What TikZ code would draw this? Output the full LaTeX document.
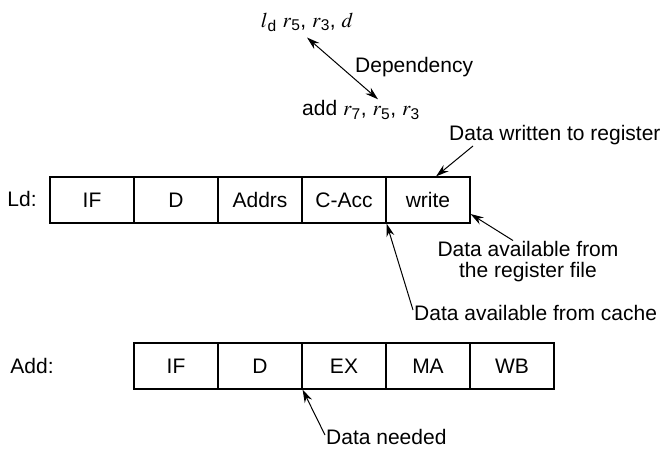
\documentclass[tikz,border=0pt]{standalone}
\usepackage{mathptmx}
\usepackage{fontspec}
\setmainfont{Liberation Sans}
\usetikzlibrary{arrows.meta}

\begin{document}
\begin{tikzpicture}[x=1pt,y=-1pt,font=\fontsize{21}{24}\selectfont,>={Stealth[length=13pt,width=8pt]}]

        \useasboundingbox (0,0) rectangle (669,449);

        \begin{scope}[every node/.style={draw,line width=1.2pt,minimum width=84pt,minimum height=46pt,inner sep=0pt}]
          \node (l1) at (92,200)  {IF};
          \node (l2) at (176,200) {D};
          \node (l3) at (260,200) {Addrs};
          \node (l4) at (344,200) {C-Acc};
          \node (l5) at (428,200) {write};
          \node (a1) at (176,366) {IF};
          \node (a2) at (260,366) {D};
          \node (a3) at (344,366) {EX};
          \node (a4) at (428,366) {MA};
          \node (a5) at (512,366) {WB};
        \end{scope}

        \begin{scope}[every node/.style={inner sep=1pt}]
          \node (ld)  at (22,199) {Ld:};
          \node (add) at (32,366) {Add:};
          \node (instr1) at (307,22)  {$l$\textsubscript{d} $r$\textsubscript{5}, $r$\textsubscript{3}, $d$};
          \node (instr2) at (361,110) {add $r$\textsubscript{7}, $r$\textsubscript{5}, $r$\textsubscript{3}};
          \node[anchor=west] (dep)     at (354,67)  {Dependency};
          \node[anchor=west] (written) at (448,135) {Data written to register};
          \node[align=center,font=\fontsize{21}{21}\selectfont] (regfile) at (528,262) {Data available from\\the register file};
          \node[anchor=west] (cache)   at (413,313) {Data available from cache};
          \node[anchor=west] (needed)  at (325,437) {Data needed};
        \end{scope}

        \begin{scope}[every edge/.style={draw,line width=1pt,->}]
          \path ([yshift=-5pt]instr1.south) edge[<->] ([xshift=17pt]instr2.north);
          \path ([xshift=25pt]written.south west) edge ([xshift=8pt]l5.north);
          \path ([xshift=-15pt]regfile.north) edge ([yshift=-14pt]l5.east);
          \path ([yshift=3pt]cache.west) edge (l4.south east);
          \path ([yshift=2pt]needed.west) edge (a2.south east);
        \end{scope}

      \end{tikzpicture}
\end{document}
